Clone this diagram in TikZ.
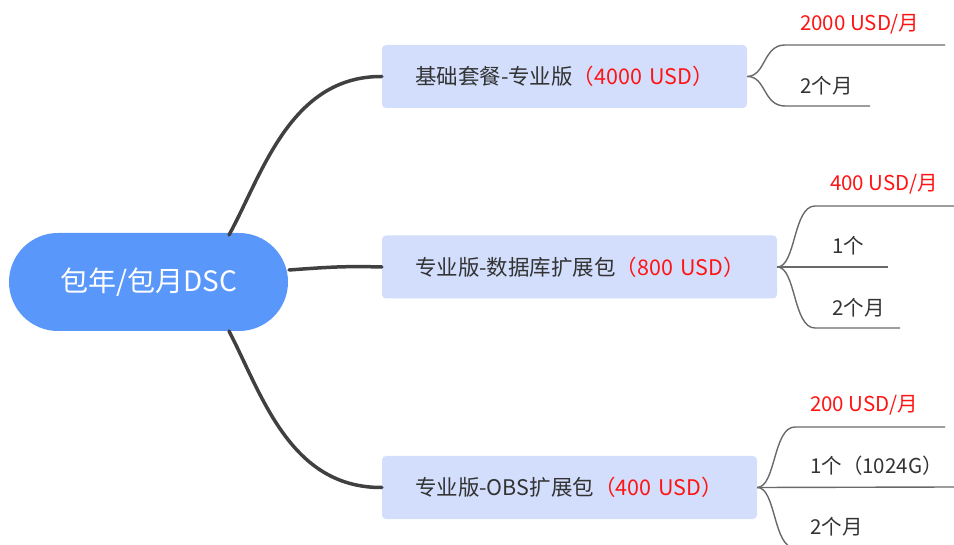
\documentclass[tikz,border=0pt]{standalone}
\usepackage{fontspec}
\setmainfont{Noto Sans CJK SC}
\definecolor{rootfill}{RGB}{89,152,250}
\definecolor{boxfill}{RGB}{210,222,252}
\definecolor{txt}{RGB}{51,51,51}
\definecolor{redtxt}{RGB}{255,20,20}
\definecolor{mainline}{RGB}{64,64,64}
\definecolor{leafline}{RGB}{105,105,105}
\begin{document}
\begin{tikzpicture}[x=1pt,y=-1pt,
  rootbox/.style={fill=rootfill,rounded corners=49pt,minimum width=279pt,minimum height=98pt,inner sep=0pt,text=white,font=\fontsize{28}{32}\selectfont},
  branchbox/.style={fill=boxfill,rounded corners=4pt,minimum height=63pt,inner xsep=33pt,inner ysep=0pt,align=left,text=txt,font=\fontsize{21.5}{25}\selectfont},
  leaftxt/.style={anchor=south west,inner sep=0pt,text=txt,font=\fontsize{20.5}{24}\selectfont},
  leafred/.style={leaftxt,text=redtxt},
  mainconn/.style={draw=mainline,line width=3.5pt,line cap=round},
  leafconn/.style={draw=leafline,line width=1.4pt}
]
\useasboundingbox (0,0) rectangle (954,545);
\begin{scope}
\clip (0,0) rectangle (954,545);
% root
\node[rootbox] (r) at (148.5,282) {包年/包月DSC};
% branches
\node[branchbox,text width=299pt] (b1) at (564.5,76.5) {\mbox{基础套餐-专业版\textcolor{redtxt}{（4000 USD）}}};
\node[branchbox,text width=329pt] (b2) at (579.5,267) {\mbox{专业版-数据库扩展包\textcolor{redtxt}{（800 USD）}}};
\node[branchbox,text width=309pt] (b3) at (569.5,487.5) {\mbox{专业版-OBS扩展包\textcolor{redtxt}{（400 USD）}}};
% root connection points
\coordinate (r1) at (229,235);
\coordinate (r2) at (289,270);
\coordinate (r3) at (229,331);
\draw[mainconn] (r1) .. controls (262,175) and (290,76) .. (b1.west);
\draw[mainconn] (r2) .. controls (330,267) and (345,266) .. (b2.west);
\draw[mainconn] (r3) .. controls (262,395) and (290,488) .. (b3.west);
% leaves of b1
\coordinate (l11s) at (785,45); \coordinate (l11e) at (945,45);
\coordinate (l12s) at (785,106); \coordinate (l12e) at (870,106);
\draw[leafconn] (b1.east) .. controls (766,76) and (763,45) .. (l11s) -- (l11e);
\draw[leafconn] (b1.east) .. controls (766,76) and (763,106) .. (l12s) -- (l12e);
\node[leafred] (t11) at (800,34) {2000 USD/月};
\node[leaftxt] (t12) at (800,95) {2个月};
% leaves of b2
\coordinate (l21s) at (815,206); \coordinate (l21e) at (954,206);
\coordinate (l22e) at (888,267);
\coordinate (l23s) at (815,328); \coordinate (l23e) at (900,328);
\draw[leafconn] (b2.east) .. controls (796,267) and (793,206) .. (l21s) -- (l21e);
\draw[leafconn] (b2.east) -- (l22e);
\draw[leafconn] (b2.east) .. controls (796,267) and (793,328) .. (l23s) -- (l23e);
\node[leafred] (t21) at (830,194) {400 USD/月};
\node[leaftxt] (t22) at (832,255) {1个};
\node[leaftxt] (t23) at (832,317) {2个月};
% leaves of b3
\coordinate (l31s) at (795,427); \coordinate (l31e) at (945,427);
\coordinate (l32e) at (954,487);
\coordinate (l33s) at (795,548); \coordinate (l33e) at (900,548);
\draw[leafconn] (b3.east) .. controls (776,487) and (773,427) .. (l31s) -- (l31e);
\draw[leafconn] (b3.east) -- (l32e);
\draw[leafconn] (b3.east) .. controls (776,487) and (773,548) .. (l33s) -- (l33e);
\node[leafred] (t31) at (810,415) {200 USD/月};
\node[leaftxt] (t32) at (810,476) {1个（1024G）};
\node[leaftxt] (t33) at (810,536) {2个月};
\end{scope}
\end{tikzpicture}
\end{document}
